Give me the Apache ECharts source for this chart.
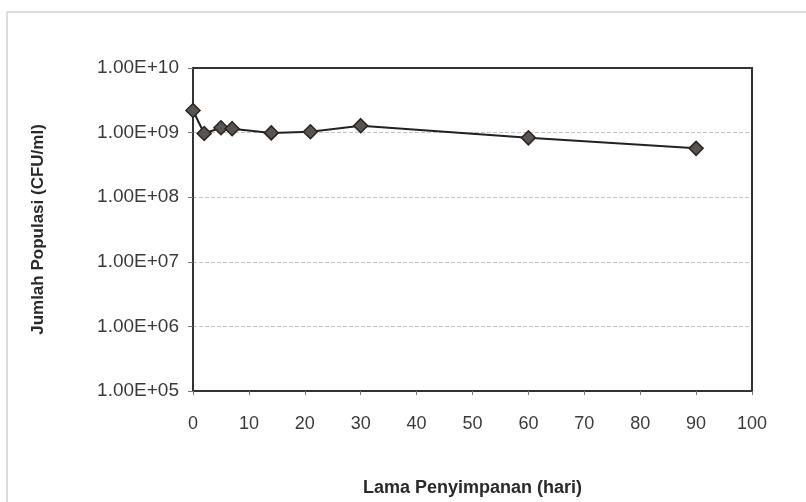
<!DOCTYPE html>
<html lang="en">
<head>
    <meta charset="UTF-8">
    <title>populasi</title>
    <style>
        html, body { margin: 0; padding: 0; background: #fff; }
        #chart { width: 806px; height: 502px; }
    </style>
</head>
<body>
<div id="chart"></div>
<script src="https://cdn.jsdelivr.net/npm/echarts@6/dist/echarts.min.js"></script>
<script>
    // storage days vs population (CFU/ml)
    const days = [0, 2, 5, 7, 14, 21, 30, 60, 90];
    const populasi = [2.2e9, 9.7e8, 1.19e9, 1.15e9, 9.9e8, 1.03e9, 1.28e9, 8.3e8, 5.7e8];
    const xTicks = [0, 10, 20, 30, 40, 50, 60, 70, 80, 90, 100];

    const font = 'Liberation Sans, Arial, sans-serif';

    function sciLabel(v) {
        const e = Math.round(Math.log10(v));
        return '1.00E+' + (e < 10 ? '0' + e : e);
    }

    const myChart = echarts.init(document.getElementById('chart'));
    myChart.setOption({
        animation: false,
        backgroundColor: '#fff',
        grid: { left: 193, right: 54, top: 68, bottom: 109 },
        xAxis: {
            type: 'value',
            min: xTicks[0],
            max: xTicks[xTicks.length - 1],
            interval: 10,
            name: 'Lama Penyimpanan (hari)',
            nameLocation: 'middle',
            nameGap: 88,
            nameTextStyle: { fontFamily: font, fontSize: 18, fontWeight: 'bold', color: '#2a2a2a' },
            axisLine: { show: true, lineStyle: { color: '#333', width: 2 } },
            axisTick: { show: true, length: 4, lineStyle: { color: '#777' } },
            axisLabel: { fontFamily: font, fontSize: 18, color: '#3a3a3a', margin: 24 },
            splitLine: { show: false }
        },
        yAxis: {
            type: 'log',
            logBase: 10,
            min: 1e5,
            max: 1e10,
            name: 'Jumlah Populasi (CFU/ml)',
            nameLocation: 'middle',
            nameGap: 146,
            nameTextStyle: { fontFamily: font, fontSize: 17, fontWeight: 'bold', color: '#2a2a2a' },
            axisLine: { show: true, lineStyle: { color: '#333', width: 2 } },
            axisTick: { show: true, length: 5, lineStyle: { color: '#777' } },
            axisLabel: { fontFamily: font, fontSize: 19, color: '#3a3a3a', margin: 14, formatter: sciLabel },
            splitLine: { show: true, lineStyle: { color: '#c4c4c4', type: 'dashed', width: 1 } }
        },
        series: [{
            type: 'line',
            data: days.map((d, i) => [d, populasi[i]]),
            symbol: 'diamond',
            symbolSize: 14,
            lineStyle: { color: '#222', width: 2 },
            itemStyle: { color: '#5a5450', borderColor: '#2a2522', borderWidth: 1.5 }
        }],
        tooltip: { show: false }
    });

    // outer chart border and box around the plot area
    const r = myChart.getModel().getComponent('grid').coordinateSystem.getRect();
    myChart.setOption({
        graphic: [{
            type: 'rect',
            shape: { x: 7, y: 12, width: 820, height: 520 },
            style: { fill: 'none', stroke: '#bbb', lineWidth: 1 },
            silent: true
        }, {
            type: 'rect',
            shape: { x: r.x, y: r.y, width: r.width, height: r.height },
            style: { fill: 'none', stroke: '#333', lineWidth: 2 },
            silent: true
        }]
    });
</script>
</body>
</html>
